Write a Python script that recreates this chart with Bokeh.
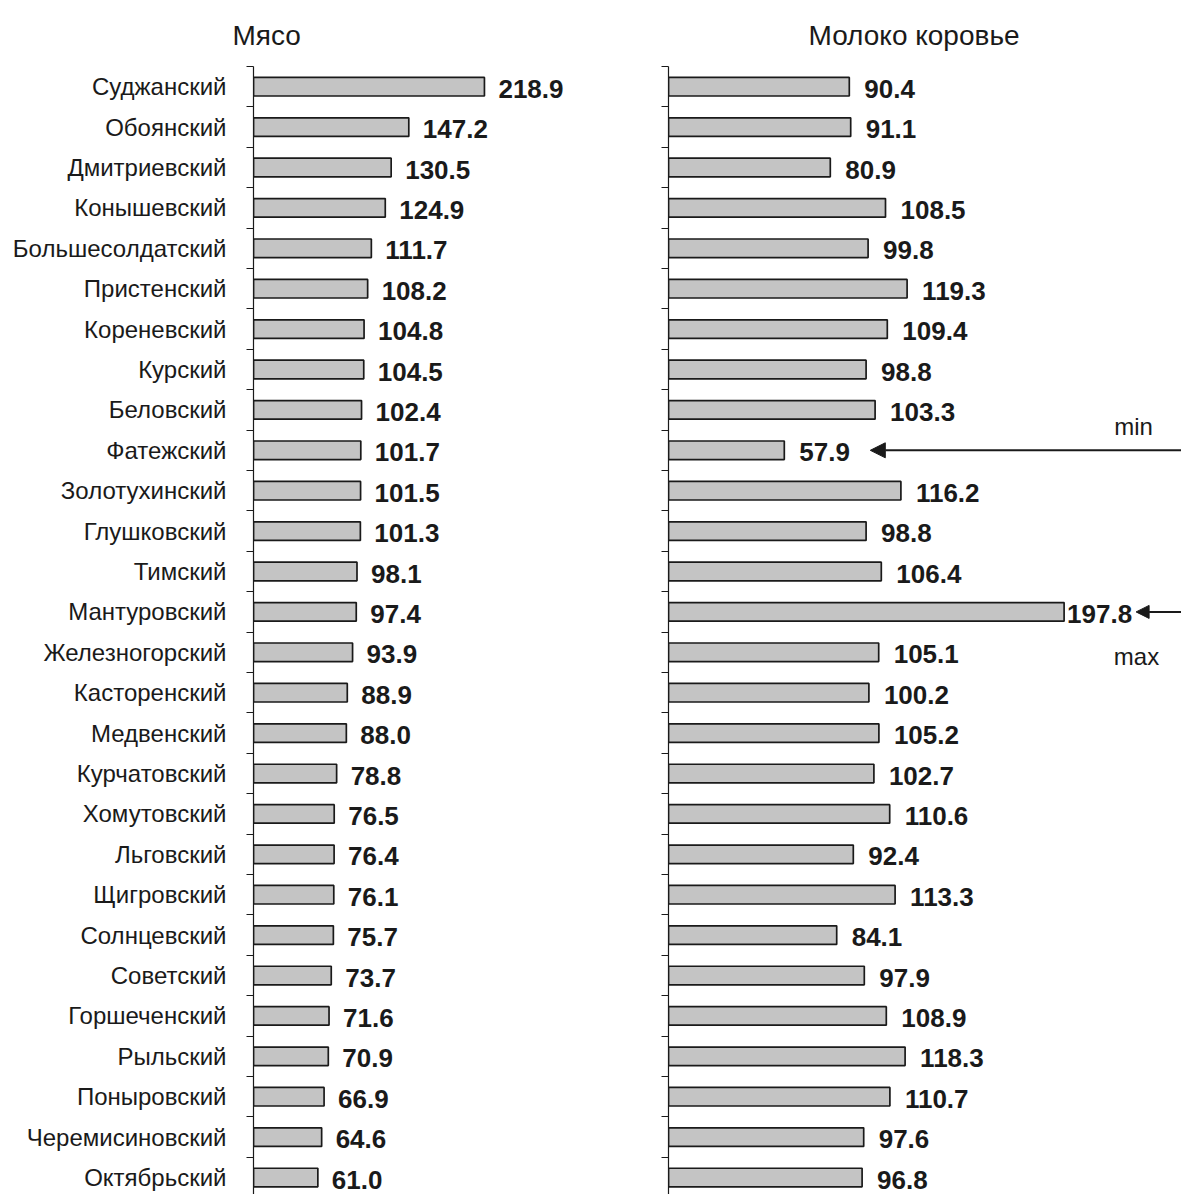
import numpy as np
from bokeh.plotting import figure
from bokeh.layouts import row
from bokeh.models import (ColumnDataSource, Range1d, FixedTicker, Label, Arrow, NormalHead, Title)
from bokeh.core.properties import value
from bokeh.embed import file_html
from bokeh.resources import INLINE

districts = ["Суджанский", "Обоянский", "Дмитриевский", "Конышевский", "Большесолдатский",
             "Пристенский", "Кореневский", "Курский", "Беловский", "Фатежский",
             "Золотухинский", "Глушковский", "Тимский", "Мантуровский", "Железногорский",
             "Касторенский", "Медвенский", "Курчатовский", "Хомутовский", "Льговский",
             "Щигровский", "Солнцевский", "Советский", "Горшеченский", "Рыльский",
             "Поныровский", "Черемисиновский", "Октябрьский"]
meat = [218.9, 147.2, 130.5, 124.9, 111.7, 108.2, 104.8, 104.5, 102.4, 101.7,
        101.5, 101.3, 98.1, 97.4, 93.9, 88.9, 88.0, 78.8, 76.5, 76.4,
        76.1, 75.7, 73.7, 71.6, 70.9, 66.9, 64.6, 61.0]
milk = [90.4, 91.1, 80.9, 108.5, 99.8, 119.3, 109.4, 98.8, 103.3, 57.9,
        116.2, 98.8, 106.4, 197.8, 105.1, 100.2, 105.2, 102.7, 110.6, 92.4,
        113.3, 84.1, 97.9, 108.9, 118.3, 110.7, 97.6, 96.8]
titles = ["Мясо", "Молоко коровье"]

n = len(districts)
idx = list(range(n))
H = 1194
TOP = 66
FONT = "Liberation Sans"
BAR_FILL = "#c4c4c4"
BAR_LINE = "#1a1a1a"
INK = "#1a1a1a"

def base_fig(width, left, right, xmax, labels, title, t_offset):
    p = figure(width=width, height=H, output_backend="svg", toolbar_location=None,
               x_range=Range1d(0, xmax), y_range=Range1d(n - 0.58, -0.5),
               x_axis_location=None, min_border_left=left, min_border_right=right,
               min_border_top=TOP, min_border_bottom=0)
    p.outline_line_color = None
    p.xgrid.visible = False
    p.ygrid.visible = False
    p.background_fill_color = "white"
    p.border_fill_color = "white"
    p.title = Title(text=title, align="left", offset=t_offset, text_font=FONT,
                    text_font_size="28px", text_font_style="normal", text_color=INK,
                    standoff=32)
    ax = p.yaxis[0]
    ax.ticker = FixedTicker(ticks=idx if labels else [], minor_ticks=[i - 0.5 for i in range(n + 1)])
    ax.axis_line_color = INK
    ax.axis_line_width = 1.2
    ax.major_tick_out = 0
    ax.major_tick_in = 0
    ax.minor_tick_out = 7
    ax.minor_tick_in = 0
    ax.minor_tick_line_color = INK
    if labels:
        ax.major_label_overrides = {i: d for i, d in enumerate(districts)}
        ax.major_label_text_font = FONT
        ax.major_label_text_font_size = "24px"
        ax.major_label_text_color = INK
        ax.major_label_standoff = 20
    else:
        ax.major_label_standoff = 0
        ax.major_label_text_font_size = "0px"
    return p

# Left panel: meat
p1 = base_fig(640, 253, 40, 347 / 1.055, True, titles[0], -21)
s1 = ColumnDataSource(dict(y=idx, v=meat, t=[f"{v:.1f}" for v in meat]))
p1.hbar(y="y", right="v", left=0, height=0.46, source=s1,
        fill_color=BAR_FILL, line_color=BAR_LINE, line_width=1.7)
p1.text(x="v", y="y", text="t", source=s1, x_offset=14, y_offset=2,
        text_baseline="middle", text_align="left", text_font=value(FONT),
        text_font_style="bold", text_font_size="26px", text_color=INK)

# Right panel: milk
p2 = base_fig(541, 28, 0, 513 / 2.0, False, titles[1], 140)
imax = int(np.argmax(milk))
imin = int(np.argmin(milk))
offs = [3 if i == imax else 15 for i in idx]
s2 = ColumnDataSource(dict(y=idx, v=milk, t=[f"{v:.1f}" for v in milk], o=offs))
p2.hbar(y="y", right="v", left=0, height=0.46, source=s2,
        fill_color=BAR_FILL, line_color=BAR_LINE, line_width=1.7)
p2.text(x="v", y="y", text="t", source=s2, x_offset="o", y_offset=2,
        text_baseline="middle", text_align="left", text_font=value(FONT),
        text_font_style="bold", text_font_size="26px", text_color=INK)

xend = 513 / 2.0
p2.add_layout(Arrow(x_start=xend, y_start=imin, x_end=milk[imin] + 43, y_end=imin,
                    line_color=INK, line_width=2,
                    end=NormalHead(size=15, fill_color=INK, line_color=INK)))
p2.add_layout(Arrow(x_start=xend, y_start=imax, x_end=milk[imax] + 36, y_end=imax,
                    line_color=INK, line_width=2,
                    end=NormalHead(size=13, fill_color=INK, line_color=INK)))
p2.add_layout(Label(x=232.5, y=imin - 0.6, text="min", text_align="center",
                    text_baseline="middle", text_font=FONT, text_font_size="24px",
                    text_color=INK))
p2.add_layout(Label(x=234, y=imax + 1.1, text="max", text_align="center",
                    text_baseline="middle", text_font=FONT, text_font_size="24px",
                    text_color=INK))

layout = row(p1, p2, spacing=0)
open("out.html", "w").write(file_html(layout, INLINE))
